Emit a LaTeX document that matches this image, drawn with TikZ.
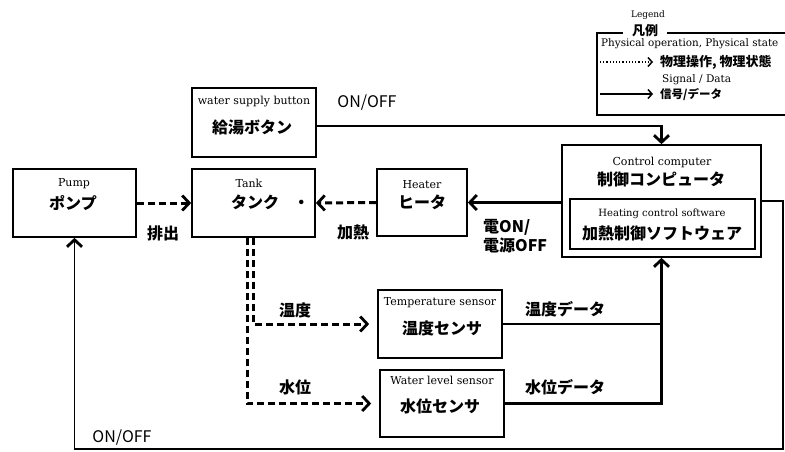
\documentclass[tikz,border=0pt]{standalone}
\usepackage{fontspec}
\newfontfamily\jp{Noto Sans CJK JP}
\newfontfamily\enf{DejaVu Serif}
\usetikzlibrary{arrows.meta,calc}
\begin{document}
\begin{tikzpicture}[x=1pt,y=-1pt,
  box/.style={draw,line width=1.7pt,inner sep=0pt},
  en/.style={font=\enf\fontsize{11}{13}\selectfont,inner sep=0pt},
  ensm/.style={font=\enf\fontsize{10}{12}\selectfont,inner sep=0pt},
  jpl/.style={font=\jp\bfseries\fontsize{16}{19}\selectfont,inner sep=0pt},
  onoff/.style={font=\jp\fontsize{16}{19}\selectfont,inner sep=0pt},
  sig/.style={line width=2.1pt},
  phys/.style={line width=3pt,dash pattern=on 7pt off 4pt},
  tip/.style={-{Straight Barb[length=7pt,width=15pt,line width=2.8pt]}},
  tipsm/.style={-{Straight Barb[length=4pt,width=9pt,line width=1.5pt]}}
]
\useasboundingbox (0,0) rectangle (785,451);
\clip (0,0) rectangle (785,451);

% boxes
\node[box,minimum width=124pt,minimum height=69pt] (btn) at (254,122.5) {};
\node[box,minimum width=123pt,minimum height=68pt] (pump) at (74.5,203) {};
\node[box,minimum width=123pt,minimum height=68pt] (tank) at (253.5,203) {};
\node[box,minimum width=90pt,minimum height=67pt] (heater) at (422,202.5) {};
\node[box,minimum width=199pt,minimum height=112pt] (ctrl) at (661.5,201) {};
\node[box,minimum width=185pt,minimum height=50pt] (sw) at (662.5,224) {};
\node[box,minimum width=124pt,minimum height=68pt] (temp) at (440,324) {};
\node[box,minimum width=124pt,minimum height=67pt] (wl) at (442,403.5) {};

% box texts
\node[en] (btn-en) at (254,102) {water supply button};
\node[jpl] (btn-jp) at (252,127) {給湯ボタン};
\node[en] (pump-en) at (74,184) {Pump};
\node[jpl] (pump-jp) at (73,203) {ポンプ};
\node[en] (tank-en) at (249,183) {Tank};
\node[jpl] (tank-jp) at (255,202) {タンク\rlap{\hspace{0.9em}・}};
\node[en] (heater-en) at (422,185) {Heater};
\node[jpl] (heater-jp) at (422,202) {ヒータ};
\node[en] (ctrl-en) at (662,162) {Control computer};
\node[jpl] (ctrl-jp) at (661,179) {制御コンピュータ};
\node[ensm] (sw-en) at (662,214) {Heating control software};
\node[jpl] (sw-jp) at (662,233) {加熱制御ソフトウェア};
\node[en] (temp-en) at (440,303) {Temperature sensor};
\node[jpl] (temp-jp) at (442,328) {温度センサ};
\node[en] (wl-en) at (442,380) {Water level sensor};
\node[jpl] (wl-jp) at (440,406) {水位センサ};

% connectors: signals
\draw[sig,tip] ($(btn.east)+(0,3.5)$) -- ($(btn.east -| ctrl.north)+(0,3.5)$) -- (ctrl.north);
\draw[sig,tip] (ctrl.west |- heater.east) -- (heater.east);
\draw[sig] (temp.east) -- (temp.east -| ctrl.south);
\draw[sig,tip] (wl.east) -| (ctrl.south);
\coordinate (rt) at (783,449);
\draw[line width=1.8pt,tip] (ctrl.east) -- (ctrl.east -| rt) -- (rt) -| (pump.south);

% connectors: physical
\draw[phys,tip] (pump.east) -- (tank.west);
\draw[phys,tip] (heater.west) -- (tank.east);
\draw[phys,tip,shorten >=8pt] ($(tank.south)+(-6.5,0)$) |- (wl.west);
\draw[phys,tip,shorten >=8pt] (tank.south) |- (temp.west);

% connector labels
\node[onoff] (lbl-on1) at (367,103) {ON/OFF};
\node[onoff] (lbl-on2) at (122,438) {ON/OFF};
\node[jpl] (lbl-out) at (163,233) {排出};
\node[jpl] (lbl-heat) at (353,232) {加熱};
\node[jpl,anchor=west,align=left] (lbl-pow) at (483,236) {電ON/\\電源OFF};
\node[jpl] (lbl-t) at (295,310) {温度};
\node[jpl] (lbl-w) at (295,387) {水位};
\node[jpl] (lbl-td) at (565,309) {温度データ};
\node[jpl] (lbl-wd) at (565,387) {水位データ};

% legend
\node[font=\enf\fontsize{9}{10}\selectfont,inner sep=0pt] (leg-en) at (648,15) {Legend};
\draw[line width=1.5pt] (790,33) -- (597,33) -- (597,115) -- (790,115);
\node[fill=white,font=\jp\bfseries\fontsize{13}{15}\selectfont,inner xsep=9pt,inner ysep=1pt] (leg-jp) at (645,31) {凡例};
\node[font=\enf\fontsize{10.4}{12}\selectfont,inner sep=0pt,anchor=west] (leg-p) at (601,44) {Physical operation, Physical state};
\coordinate (l1a) at (600,62);
\coordinate (l1b) at (653,62);
\draw[dotted,line width=1.2pt,tipsm] (l1a) -- (l1b);
\node[font=\jp\bfseries\fontsize{13}{15}\selectfont,inner sep=0pt,anchor=west] (leg-pj) at (660,62) {物理操作, 物理状態};
\node[font=\enf\fontsize{10.5}{12}\selectfont,inner sep=0pt,anchor=west] (leg-s) at (662,80) {Signal / Data};
\coordinate (l2a) at (600,94);
\coordinate (l2b) at (653,94);
\draw[line width=1.5pt,tipsm] (l2a) -- (l2b);
\node[font=\jp\bfseries\fontsize{11.5}{13}\selectfont,inner sep=0pt,anchor=west] (leg-sj) at (660,94) {信号/データ};
\end{tikzpicture}
\end{document}
